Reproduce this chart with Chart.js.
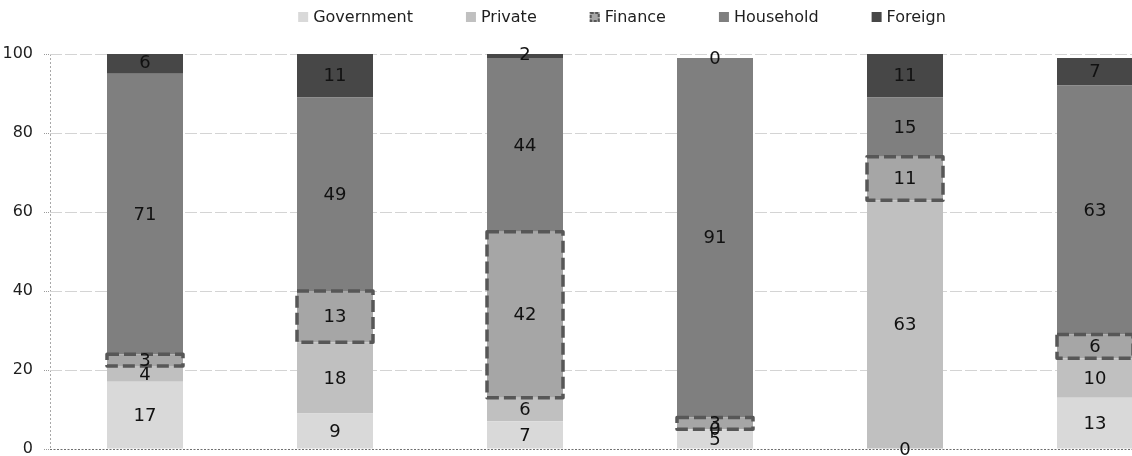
<!DOCTYPE html>
<html>
<head>
<meta charset="utf-8">
<script src="https://cdn.jsdelivr.net/npm/chart.js@4.4.1/dist/chart.umd.min.js"></script>
<style>
  html, body { margin: 0; padding: 0; background: #fff; overflow: hidden; width: 1132px; height: 456px; }
  #wrap { position: absolute; left: 0; top: 0; width: 1192px; height: 456px; }
</style>
</head>
<body>
<div id="wrap"><canvas id="c" width="1192" height="456"></canvas></div>
<script>
// Share of holdings by sector (%), one stacked column per group
const categories = ['', '', '', '', '', ''];
const government = [17, 9, 7, 5, 0, 13];
const privateSector = [4, 18, 6, 0, 63, 10];
const finance = [3, 13, 42, 3, 11, 6];
const household = [71, 49, 44, 91, 15, 63];
const foreign = [6, 11, 2, 0, 11, 7];
const yTicks = [0, 20, 40, 60, 80, 100];

const FONT = "'DejaVu Sans', 'Noto Sans', sans-serif";
const TEXT = '#1e1e1e';

function series(label, data, color, extra) {
  return Object.assign({
    label, data,
    backgroundColor: color,
    borderWidth: 0,
    barPercentage: 0.4,
    categoryPercentage: 1.0
  }, extra || {});
}

// Dashed outline around the finance segments, then value labels on every segment
const segmentPlugin = {
  id: 'segmentDecor',
  afterDatasetsDraw(chart) {
    const ctx = chart.ctx;
    chart.data.datasets.forEach((ds, di) => {
      if (!ds.dashedOutline) return;
      chart.getDatasetMeta(di).data.forEach(bar => {
        const p = bar.getProps(['x', 'y', 'base', 'width'], true);
        const l = p.x - p.width / 2, r = p.x + p.width / 2;
        const t = Math.min(p.y, p.base), b = Math.max(p.y, p.base);
        ctx.save();
        ctx.strokeStyle = '#575757';
        ctx.lineWidth = 3.5;
        ctx.lineJoin = 'round';
        ctx.setLineDash([12, 5]);
        ctx.beginPath();
        ctx.moveTo(l, t);
        ctx.lineTo(r, t);
        ctx.lineTo(r, b);
        ctx.lineTo(l, b);
        ctx.closePath();
        ctx.stroke();
        ctx.restore();
      });
    });

    ctx.save();
    ctx.font = '18px ' + FONT;
    ctx.fillStyle = '#111';
    ctx.textAlign = 'center';
    ctx.textBaseline = 'middle';
    chart.data.datasets.forEach((ds, di) => {
      chart.getDatasetMeta(di).data.forEach((bar, i) => {
        const p = bar.getProps(['x', 'y', 'base'], true);
        ctx.fillText(String(ds.data[i]), p.x, (p.y + p.base) / 2 + 1);
      });
    });
    ctx.restore();
  }
};

// Legend row across the top
const legendPlugin = {
  id: 'topLegend',
  afterDraw(chart) {
    const ctx = chart.ctx;
    const items = chart.data.datasets;
    const box = 10, gapText = 5, gapItem = 53, centerX = 622, cy = 17;
    ctx.save();
    ctx.font = '16px ' + FONT;
    const widths = items.map(d => box + gapText + ctx.measureText(d.label).width);
    const total = widths.reduce((a, b) => a + b, 0) + gapItem * (items.length - 1);
    let x = centerX - total / 2;
    items.forEach((d, i) => {
      ctx.fillStyle = d.backgroundColor;
      ctx.fillRect(x, cy - box / 2, box, box);
      if (d.dashedOutline) {
        ctx.strokeStyle = '#575757';
        ctx.lineWidth = 2;
        ctx.setLineDash([3, 1.5]);
        ctx.strokeRect(x + 1, cy - box / 2 + 1, box - 2, box - 2);
        ctx.setLineDash([]);
      }
      ctx.fillStyle = TEXT;
      ctx.textAlign = 'left';
      ctx.textBaseline = 'middle';
      ctx.fillText(d.label, x + box + gapText, cy + 1);
      x += widths[i] + gapItem;
    });
    ctx.restore();
  }
};

new Chart(document.getElementById('c'), {
  type: 'bar',
  data: {
    labels: categories,
    datasets: [
      series('Government', government, '#d9d9d9'),
      series('Private', privateSector, '#c0c0c0'),
      series('Finance', finance, '#a6a6a6', { dashedOutline: true }),
      series('Household', household, '#7f7f7f'),
      series('Foreign', foreign, '#474747')
    ]
  },
  options: {
    responsive: false,
    animation: false,
    events: [],
    layout: { padding: { top: 54, bottom: 7, left: 0, right: 2 } },
    plugins: {
      legend: { display: false },
      tooltip: { enabled: false }
    },
    scales: {
      x: {
        stacked: true,
        ticks: { display: false },
        border: {
          display: false,
          dash: [2, 2]
        },
        grid: {
          drawTicks: false,
          color: c => (c.index === 0 ? '#a8a8a8' : 'rgba(0,0,0,0)'),
          lineWidth: 1
        },
        afterFit(s) { s.height = 0; }
      },
      y: {
        stacked: true,
        min: 0,
        max: 100,
        afterBuildTicks(s) { s.ticks = yTicks.map(v => ({ value: v })); },
        ticks: {
          font: { family: FONT, size: 16 },
          color: TEXT,
          padding: 11
        },
        border: {
          display: false,
          dash: c => (c.tick && c.tick.value === 0 ? [2, 1.5] : [12, 3])
        },
        grid: {
          color: c => (c.tick && c.tick.value === 0 ? '#6e6e6e' : '#d4d4d4'),
          lineWidth: 1,
          tickLength: 6,
          tickColor: '#9a9a9a',
          tickBorderDash: [1, 1]
        },
        afterFit(s) {
          s.width = 50;
          s.paddingTop = 0;
          s.paddingBottom = 0;
        }
      }
    }
  },
  plugins: [segmentPlugin, legendPlugin]
});
</script>
</body>
</html>
